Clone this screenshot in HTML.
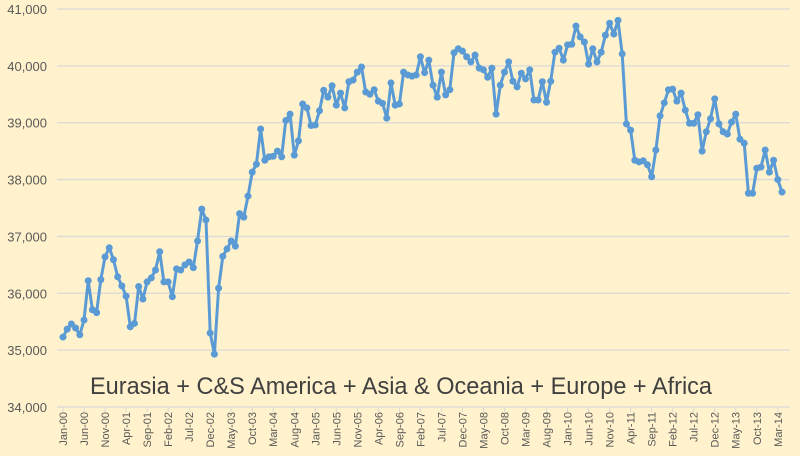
<!DOCTYPE html>
<html><head><meta charset="utf-8"><style>
html,body{margin:0;padding:0;background:#FFF2CC;}
svg{display:block;font-family:"Liberation Sans",sans-serif;}
</style></head><body>
<svg id="chart" width="800" height="456" viewBox="0 0 800 456">
<rect x="0" y="0" width="800" height="456" fill="#FFF2CC"/>
<g id="grid"></g><g id="axes"></g><g id="series"></g>
<text x="401" y="394" text-anchor="middle" font-size="24" textLength="622" lengthAdjust="spacingAndGlyphs" fill="#404040">Eurasia + C&amp;S America + Asia &amp; Oceania + Europe + Africa</text>
</svg>
<script>
const startYear = 2000;
const monthNames = ["Jan","Feb","Mar","Apr","May","Jun","Jul","Aug","Sep","Oct","Nov","Dec"];
const yTicks = [34000,35000,36000,37000,38000,39000,40000,41000];
const values = [35230,35370,35460,35390,35270,35530,36220,35710,35660,36240,36640,36800,36590,36290,36130,35950,35410,35470,36120,35900,36200,36270,36410,36730,36200,36200,35940,36430,36410,36500,36550,36450,36920,37480,37290,35300,34930,36090,36650,36780,36920,36830,37400,37340,
37710,38130,38270,38890,38340,38400,38410,38500,38400,39040,39150,38430,38680,39330,39260,38950,38960,39210,39570,39450,39650,39310,39520,39260,39720,39750,39890,39980,
39540,39500,39580,39380,39340,39080,39700,39310,39330,39890,39840,39820,39840,40160,39880,
40100,39660,39450,39890,39490,39580,40230,40300,40260,40160,40070,40190,39960,39930,39800,39960,39150,39660,39890,40070,39730,39630,39870,39770,39930,39400,39400,39720,39360,39730,40240,40310,40100,40370,40380,40700,40510,40420,40030,40300,40070,40240,
40540,40750,40560,40800,40210,38980,38870,38340,38310,38330,38260,38050,38520,39120,39350,39580,39590,39380,39520,39220,38990,38990,39140,38500,38840,39070,39420,38980,38840,38800,39010,39150,38710,38640,37760,37760,38200,38220,38520,38130,38340,38000,37780];

const NS="http://www.w3.org/2000/svg";
const x0=63, x1=782, yMin=34000, yMax=41000, yBot=407, yTop=9, plotL=57, plotR=790;
function xs(i){return x0+i*(x1-x0)/(values.length-1);}
function ys(v){return yBot-(v-yMin)/(yMax-yMin)*(yBot-yTop);}
function mk(t,a,p){const e=document.createElementNS(NS,t);for(const k in a)e.setAttribute(k,a[k]);p.appendChild(e);return e;}
const grid=document.getElementById('grid'), axes=document.getElementById('axes'), ser=document.getElementById('series');
yTicks.forEach(v=>{
  const y=ys(v);
  const l=mk('line',{x1:plotL,x2:plotR,y1:y,y2:y,stroke:'#D9D9D9','stroke-width':1.3},grid);
  
  
  const t=mk('text',{x:47,y:y+5,'text-anchor':'end','font-size':13,fill:'#595959'},axes);
  
  
  t.textContent=v.toLocaleString('en-US');
});
for(let i=0;i<values.length;i+=5){
  const x=xs(i);
  const tk=mk('line',{x1:x,x2:x,y1:yBot,y2:yBot+5,stroke:'#D9D9D9'},axes);
  
  
  const lab=monthNames[i%12]+'-'+String((startYear+Math.floor(i/12))%100).padStart(2,'0');
  const t=mk('text',{x:0,y:0,'text-anchor':'end','font-size':11,fill:'#595959',transform:`translate(${x+4},${yBot+5}) rotate(-90)`},axes);
  
  
  t.textContent=lab;
}
const pts=values.map((v,i)=>xs(i).toFixed(1)+','+ys(v).toFixed(1)).join(' ');
const pl=mk('polyline',{points:pts,fill:'none',stroke:'#5B9BD5','stroke-width':3,'stroke-linejoin':'round'},ser);


values.forEach((v,i)=>{
  const c=mk('circle',{cx:xs(i),cy:ys(v),r:3.5,fill:'#5B9BD5'},ser);
  
  
});
</script>
</body></html>
